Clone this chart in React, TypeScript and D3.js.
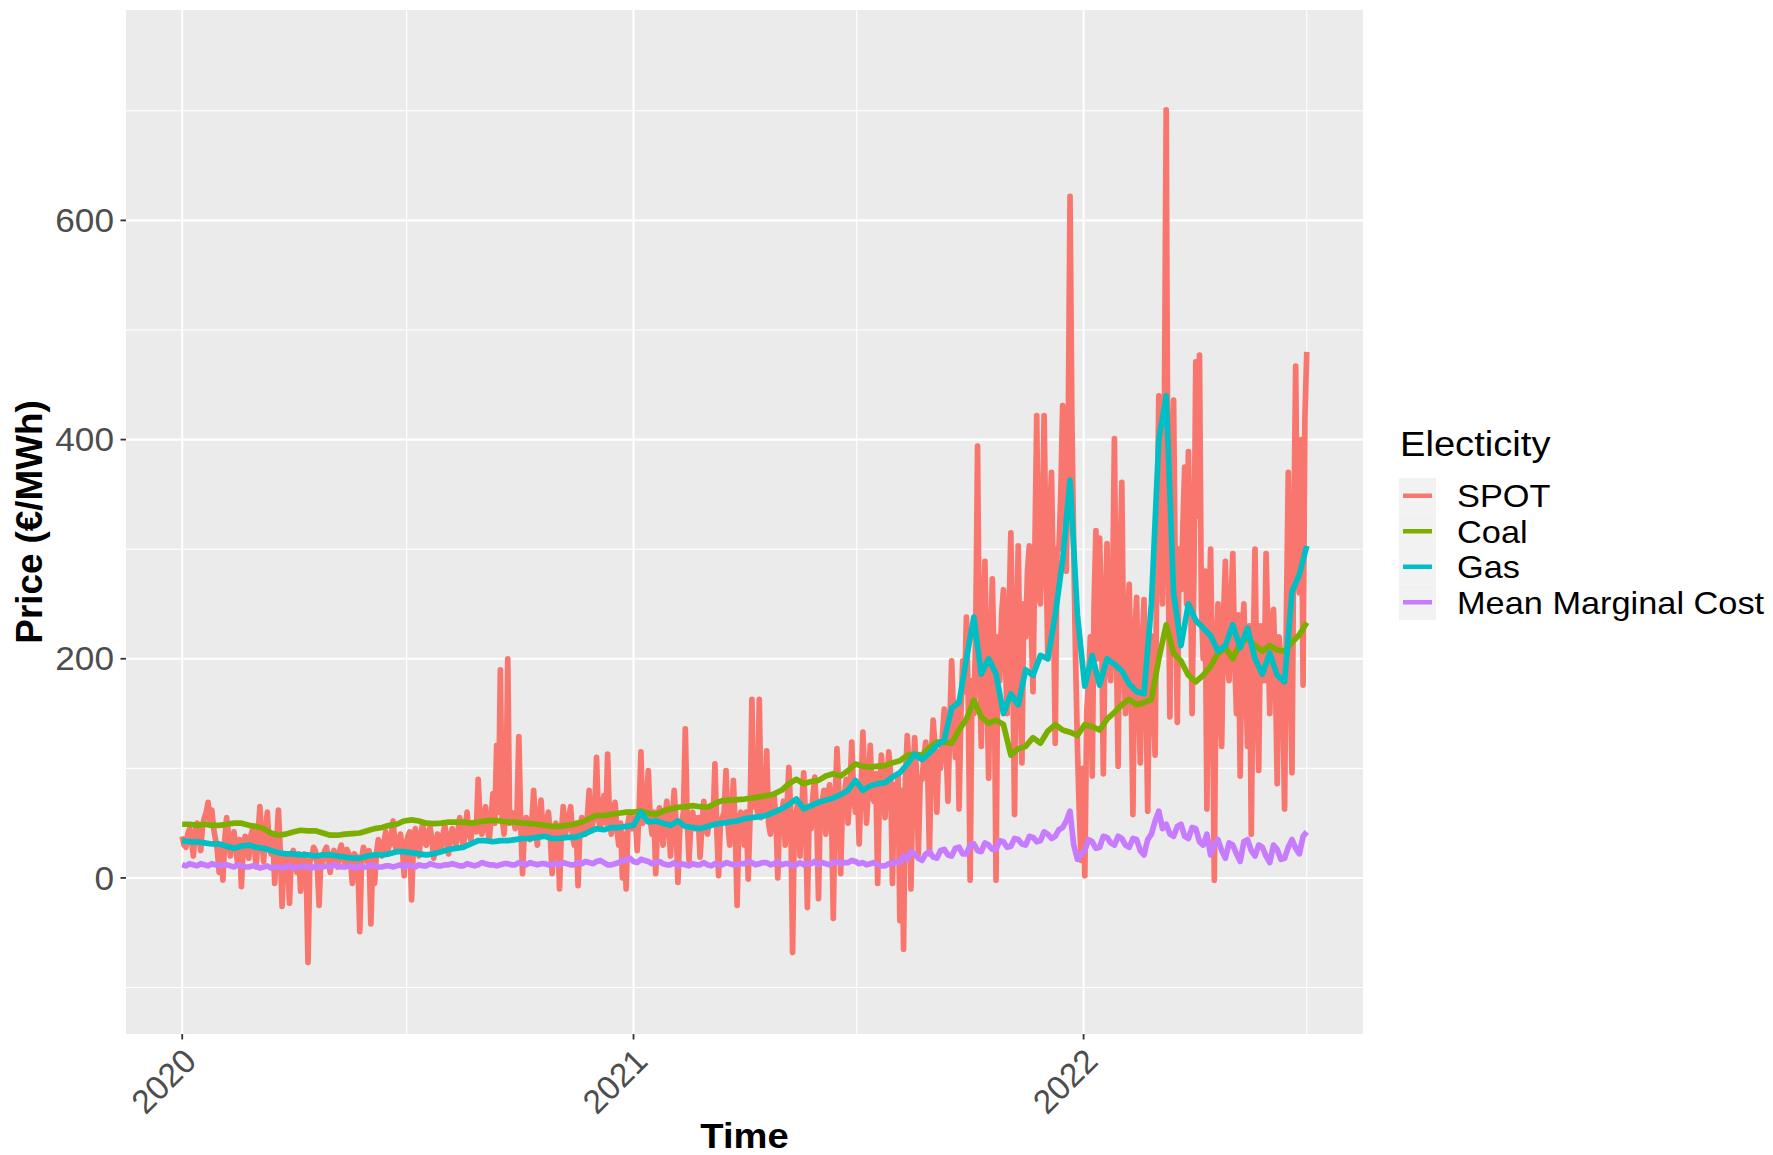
import React from "react";
import * as d3 from "d3";

// ---------------- DATA ----------------
const startDate = "2020-01-01";
const spotStepDays = 1.5; // SPOT sampled every 36 hours
const mmcStepDays = 3; // Mean Marginal Cost sampled every 3 days
const fuelStepDays = 6; // Coal / Gas sampled every 6 days

const seriesNames = ["SPOT", "Coal", "Gas", "Mean Marginal Cost"];
const seriesColors = ["#F8766D", "#7CAE00", "#00BFC4", "#C77CFF"];

const spotValues = [
  38, 30, 28, 40, 45, 35, 20, 42, 50, 38, 25, 48, 55, 60, 69, 50, 62, 45, 35, 25,
  5, 30, -2, 35, 55, 40, 20, 32, 42, 28, 12, 35, -8, 30, 38, 25, 18, 38, 44, 30, 10, 40,
  65, 35, 15, 40, 60, 30, 22, 38, -5, 30, 62, 25, -26, 22, 20, 15,
  -23, 20, 25, 15,
  5, 22, -12, 18, 22, 10, -77, 15, 18, 28, 25, 12, -25, 20, 15, 25, 28, 18, 5, 20,
  25, 15, 10, 24, 30, 18, 12, 26, 22, 15, -5, 22, 20, 12, -49, 18, 28, 20, 15, 25, -42, 18,
  -5, 22, 35, 28, 20, 32, 42, 25, 30, 38, 52, 30, 25, 35, 40, 28, 2, 30, 38, 42,
  -20, 30, 45, 35, 20, 38, 50, 32, 30, 42, 46, 35, 18, 30, 40, 35, 25, 40, 48, 35,
  22, 38, 45, 35, 30, 42, 55, 40, 28, 45, 60, 40, 35, 48, 50, 42, 90, 55, 40, 50,
  65, 45, 35, 55, 77, 50, 121, 60, 190, 55, 40, 65, 200, 50, 60, 55, 45, 60, 129, 50,
  4, 45, 55, 40, 35, 50, 80, 45, 30, 55, 71, 42, 40, 52, 60, 38, 4, 45, 50, 40,
  -10, 42, 65, 40, 45, 55, 65, 38, 30, 50, -7, 45, 55, 42, 40, 55, 80, 45, 50, 60,
  110, 55, 45, 65, 75, 50, 113, 55, 40, 60, 69, 45, 30, 50, 0, 40, -10, 50, 60, 45,
  45, 55, 25, 60, 115, 50, 60, 70, 98, 55, 40, 60, 4, 50, 64, 45, 30, 55, 70, 50, 20, 55,
  80, 50, -4, 45, 50, 60, 136, 55, 16, 50, 60, 45, 45, 55, 19, 48, 70, 50,
  40, 55, 65, 50, 104, 45, 2, 52, 55, 60, 98, 50, 30, 55, 89, 45, -25, 50, 60, 55,
  30, 60, -1, 55, 163, 65, 70, 60, 163, 55, 60, 70, 116, 50, 40, 65, 75, 55, 0, 60,
  55, 70, 30, 65, 101, 60, -68, 55, 60, 70, 20, 65, 96, 55, -27, 60, 45, 75, 92, 60, -19, 65,
  70, 80, 40, 75, 85, 65, -37, 70, 118, 80, 4, 70, 75, 90, 50, 80, 124, 75,
  60, 85, 31, 80, 133, 90, 50, 85, 121, 75, 70, 95, -5, 80, 112, 90, 55, 85, 115, 95,
  -5, 85, 60, 95, -39, 80, -65, 90, 130, 100, -10, 85, 128, 95, 22, 90, 90, 110, 124, 100,
  22, 110, 144, 120, 60, 115, 100, 130, 154, 120, 70, 140, 198, 150, 110, 160, 63, 150, 198, 170, 238, 160,
  -2, 180, 150, 220, 394, 200, 120, 230, 289, 180, 91, 210, 273, 190, -2, 220, 180, 240, 263, 200,
  150, 240, 315, 200, 58, 220, 303, 190, 105, 250, 220, 280, 303, 230, 170, 300, 422, 260, 250, 320,
  422, 300, 200, 330, 370, 260, 123, 300, 300, 350, 431, 380, 280, 400, 622, 420, 300, 200, 120, 60, 16, 100,
  2, 150, 180, 220, 93, 250, 317, 200, 310, 240, 95, 230, 305, 200, 180, 260, 401, 220, 102, 280, 361, 200,
  150, 230, 268, 180, 58, 220, 256, 170, 105, 210, 254, 180, 61, 200, 221, 160, 112, 300,
  440, 320, 250, 420, 701, 300, 147, 380, 436, 260, 142, 300, 263, 320, 375, 250, 389, 300, 150, 280,
  471, 330, 477, 250, 200, 280, 63, 220, 300, 180, -2, 200, 250, 160, 120, 240, 289, 200, 180, 250,
  296, 200, 150, 240, 93, 220, 250, 180, 120, 230, 40, 200, 300, 170, 98, 230, 200, 180, 296, 220,
  150, 230, 245, 190, 86, 220, 200, 170, 63, 240, 370, 200, 96, 320, 467, 280, 260, 400, 176, 420, 480,
];

const coalValues = [
  49, 49, 48, 49, 48, 48, 49, 50, 50, 48,
  47, 45, 41, 39, 40, 42, 43.5, 43, 43, 41,
  39, 39, 40, 40.5, 41, 43, 45, 46, 48, 49,
  52, 53, 52, 50, 49.6, 50, 51, 51, 51, 50,
  51, 52, 52.6, 52, 51, 51, 50, 49.6, 49, 48,
  47, 47, 48, 49, 51, 54, 57, 57, 58, 59,
  60, 60, 61, 59, 58, 61, 63, 64.5, 65, 66,
  65, 64.5, 68, 70.6, 71, 71.5, 72, 73, 74, 75,
  76.7, 80, 86, 90, 86, 88, 89, 93, 95, 93,
  98, 104, 102, 101, 102, 102.5, 105, 107, 112, 113,
  112, 119, 124, 124, 123, 135, 145, 162, 147, 141,
  144, 140, 112, 118, 120, 128, 123, 134, 140, 135,
  133, 130, 140, 138, 135, 145, 151, 158, 163, 158,
  160, 163, 200, 231, 205, 198, 185, 179, 185, 193,
  205, 210, 200, 214, 219, 212, 207, 212, 208, 207,
  215, 222, 233,
];

const gasValues = [
  34, 33, 33, 32, 31, 31, 29, 27, 29, 30,
  28, 27, 25, 23, 22, 22, 21, 21, 20, 21,
  21, 20, 19, 18, 18, 20, 21, 21, 22, 24,
  24, 23, 22, 21, 22, 24, 26, 27, 28, 31,
  34, 34, 33, 34, 34, 35, 36, 36, 37, 38,
  36, 36, 37, 37, 39, 42, 45, 44, 46, 46,
  47, 48, 60, 51, 52, 50, 48, 52, 47, 46,
  45, 47, 49, 50, 51, 52, 54, 55, 56, 57,
  60, 63, 67, 72, 63, 66, 69, 71, 73, 76,
  80, 89, 80, 84, 86, 87, 92, 96, 104, 113,
  108, 114, 121, 126, 155, 160, 200, 238, 186, 200,
  186, 150, 168, 158, 190, 185, 203, 200, 240, 290,
  363, 240, 175, 203, 176, 200, 195, 189, 177, 170,
  168, 250, 400, 440, 260, 212, 250, 235, 228, 221,
  207, 212, 231, 210, 228, 200, 186, 205, 185, 179,
  261, 277, 303,
];

const mmcValues = [
  12, 11, 13, 12, 11, 13, 12, 11, 13, 12, 11, 12, 12, 11, 10, 12, 11, 10, 10, 11,
  11, 9, 10, 11, 9, 10, 10, 9, 10, 11, 9, 10, 10, 11, 10, 9, 11, 10, 10, 11,
  10, 12, 11, 10, 10, 11, 10, 9, 11, 10, 10, 12, 11, 10, 10, 11, 11, 10, 11, 12,
  10, 12, 11, 10, 12, 11, 11, 13, 12, 11, 11, 12, 12, 13, 12, 11, 11, 13, 12, 11,
  12, 14, 13, 12, 12, 11, 12, 13, 13, 12, 12, 14, 13, 12, 14, 13, 12, 13, 13, 12,
  12, 13, 12, 14, 13, 12, 12, 14, 13, 15, 14, 13, 15, 16, 14, 12, 12, 13, 14, 16,
  16, 18, 15, 14, 17, 16, 15, 13, 14, 15, 13, 12, 12, 14, 11, 13, 12, 11, 13, 12,
  12, 14, 12, 11, 13, 12, 12, 14, 13, 12, 12, 13, 13, 15, 14, 12, 13, 14, 14, 12,
  13, 15, 12, 13, 13, 11, 12, 14, 12, 13, 13, 15, 12, 14, 13, 12, 14, 15, 13, 14,
  14, 16, 15, 13, 14, 12, 13, 14, 12, 11, 11, 13, 13, 15, 14, 20, 17, 24, 22, 18,
  16, 22, 24, 19, 18, 25, 26, 21, 20, 27, 28, 22, 22, 30, 31, 25, 24, 32, 30, 26,
  26, 34, 33, 28, 29, 36, 35, 31, 30, 38, 37, 33, 34, 42, 40, 36, 38, 44, 46, 52,
  61, 30, 17, 22, 25, 35, 33, 27, 28, 38, 37, 32, 30, 38, 36, 30, 28, 36, 35, 25,
  21, 35, 40, 52, 61, 45, 49, 40, 38, 47, 49, 38, 36, 46, 45, 33, 30, 40, 21, 30,
  35, 25, 18, 32, 30, 22, 15, 33, 35, 25, 20, 30, 28, 20, 14, 30, 26, 17, 18, 28,
  35, 27, 22, 38, 42,
];

const yMajorTicks = [0, 200, 400, 600];
const yMinorTicks = [-100, 100, 300, 500, 700];
const xMajorTickLabels = ["2020", "2021", "2022"];
const xMinorTickDates = ["2020-07-01", "2021-07-01", "2022-07-01"];

const xTitle = "Time";
const yTitle = "Price (€/MWh)";
const legendTitle = "Electicity";

// ---------------- LAYOUT ----------------
const W = 1773;
const H = 1155;
const panel = { left: 126, right: 1363, top: 10, bottom: 1034 };
const yLimits = [-142.4, 792];
const FONT = "'Liberation Sans', Arial, Helvetica, sans-serif";
const DAY = 86400000;
const LINE_W = 5.7;
const SX = 1.09; // horizontal glyph stretch seen in the reference text

function buildSeries(values: number[], stepDays: number) {
  const t0 = Date.parse(startDate + "T00:00:00Z");
  return values.map((v, i) => ({ date: new Date(t0 + i * stepDays * DAY), value: v }));
}

function HText(props: {
  x: number;
  y: number;
  size: number;
  anchor?: "start" | "middle" | "end";
  fill?: string;
  bold?: boolean;
  children: React.ReactNode;
}) {
  return (
    <text
      transform={`translate(${props.x},${props.y}) scale(${SX},1)`}
      textAnchor={props.anchor || "start"}
      fontSize={props.size}
      fontWeight={props.bold ? "bold" : "normal"}
      fill={props.fill || "#000000"}
    >
      {props.children}
    </text>
  );
}

export default function App() {
  const series = [
    buildSeries(spotValues, spotStepDays),
    buildSeries(coalValues, fuelStepDays),
    buildSeries(gasValues, fuelStepDays),
    buildSeries(mmcValues, mmcStepDays),
  ];

  const all = series.flat();
  const [dMin, dMax] = d3.extent(all, (d) => d.date.getTime()) as [number, number];
  const pad = (dMax - dMin) * 0.05;
  const x = d3
    .scaleUtc()
    .domain([new Date(dMin - pad), new Date(dMax + pad)])
    .range([panel.left, panel.right]);
  const y = d3.scaleLinear().domain(yLimits).range([panel.bottom, panel.top]);

  const line = d3
    .line<{ date: Date; value: number }>()
    .x((d) => x(d.date))
    .y((d) => y(d.value));

  const majorDates = xMajorTickLabels.map((s) => new Date(Date.parse(s + "-01-01T00:00:00Z")));
  const minorDates = xMinorTickDates.map((s) => new Date(Date.parse(s + "T00:00:00Z")));

  const tickColor = "#333333";
  const labelColor = "#4D4D4D";

  const legendX = 1399;
  const legendKeyTop = 478;
  const keyH = 35.5;
  const keyW = 37;

  return (
    <svg
      width={W}
      height={H}
      style={{ position: "absolute", left: 0, top: 0, display: "block", background: "#ffffff" }}
      fontFamily={FONT}
    >
      <defs>
        <clipPath id="panelClip">
          <rect
            x={panel.left}
            y={panel.top}
            width={panel.right - panel.left}
            height={panel.bottom - panel.top}
          />
        </clipPath>
      </defs>
      <rect x={0} y={0} width={W} height={H} fill="#ffffff" />
      {/* panel */}
      <rect
        x={panel.left}
        y={panel.top}
        width={panel.right - panel.left}
        height={panel.bottom - panel.top}
        fill="#EBEBEB"
      />
      {/* minor grid */}
      {yMinorTicks.map((t) => (
        <line key={"ym" + t} x1={panel.left} x2={panel.right} y1={y(t)} y2={y(t)} stroke="#ffffff" strokeWidth={1.1} />
      ))}
      {minorDates.map((d, i) => (
        <line key={"xm" + i} x1={x(d)} x2={x(d)} y1={panel.top} y2={panel.bottom} stroke="#ffffff" strokeWidth={1.1} />
      ))}
      {/* major grid */}
      {yMajorTicks.map((t) => (
        <line key={"yM" + t} x1={panel.left} x2={panel.right} y1={y(t)} y2={y(t)} stroke="#ffffff" strokeWidth={2.1} />
      ))}
      {majorDates.map((d, i) => (
        <line key={"xM" + i} x1={x(d)} x2={x(d)} y1={panel.top} y2={panel.bottom} stroke="#ffffff" strokeWidth={2.1} />
      ))}
      {/* series */}
      <g clipPath="url(#panelClip)">
        {series.map((s, i) => (
          <path
            key={seriesNames[i]}
            d={line(s) || ""}
            fill="none"
            stroke={seriesColors[i]}
            strokeWidth={LINE_W}
            strokeLinejoin="round"
            strokeLinecap="butt"
          />
        ))}
      </g>
      {/* y axis */}
      {yMajorTicks.map((t) => (
        <g key={"yt" + t}>
          <line x1={panel.left - 5.5} x2={panel.left} y1={y(t)} y2={y(t)} stroke={tickColor} strokeWidth={1.8} />
          <HText x={panel.left - 12} y={y(t) + 11.6} size={32.3} anchor="end" fill={labelColor}>
            {t}
          </HText>
        </g>
      ))}
      {/* x axis */}
      {majorDates.map((d, i) => (
        <g key={"xt" + i}>
          <line x1={x(d)} x2={x(d)} y1={panel.bottom} y2={panel.bottom + 5.5} stroke={tickColor} strokeWidth={1.8} />
          <text
            transform={`translate(${x(d) + 16},${panel.bottom + 29}) rotate(-45)`}
            textAnchor="end"
            fontSize={33.5}
            fill={labelColor}
          >
            {xMajorTickLabels[i]}
          </text>
        </g>
      ))}
      {/* axis titles */}
      <HText x={(panel.left + panel.right) / 2} y={1148} size={35} anchor="middle" bold>
        {xTitle}
      </HText>
      <text
        transform={`translate(42,${(panel.top + panel.bottom) / 2}) rotate(-90)`}
        textAnchor="middle"
        fontSize={36.8}
        fontWeight="bold"
        fill="#000000"
      >
        {yTitle}
      </text>
      {/* legend */}
      <HText x={1400} y={456} size={35}>
        {legendTitle}
      </HText>
      {seriesNames.map((name, i) => {
        const top = legendKeyTop + i * keyH;
        const cy = top + keyH / 2;
        return (
          <g key={"lg" + name}>
            <rect x={legendX} y={top} width={keyW} height={keyH} fill="#F2F2F2" />
            <line
              x1={legendX + 4}
              x2={legendX + keyW - 4}
              y1={cy}
              y2={cy}
              stroke={seriesColors[i]}
              strokeWidth={4.5}
            />
            <HText x={1457} y={cy + 11.3} size={31.5}>
              {name}
            </HText>
          </g>
        );
      })}
    </svg>
  );
}
